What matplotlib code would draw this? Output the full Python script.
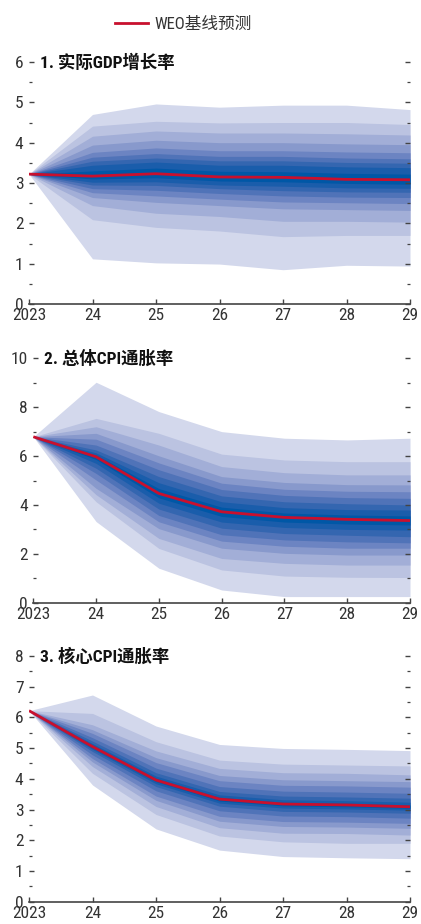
import matplotlib
matplotlib.use('Agg')
import matplotlib.pyplot as plt
from matplotlib import font_manager
from matplotlib.lines import Line2D
from matplotlib.ticker import MultipleLocator
import numpy as np

# pick a narrow Latin face if one is around, CJK falls back to Noto
available = {f.name for f in font_manager.fontManager.ttflist}
narrow = None
for cand in ['Roboto Condensed', 'Liberation Sans Narrow', 'Open Sans Condensed',
             'Noto Sans Condensed', 'DejaVu Sans Condensed']:
    if cand in available:
        narrow = cand
        break
families = ([narrow] if narrow else []) + ['DejaVu Sans', 'Noto Sans CJK SC']
plt.rcParams['font.family'] = families
plt.rcParams['font.stretch'] = 'condensed'

years = ['2023', '24', '25', '26', '27', '28', '29']

# percentile edges per year: p5, p10, ..., p45, p55, ..., p95
gdp_baseline = [3.22, 3.17, 3.23, 3.15, 3.14, 3.09, 3.08]
gdp_bands = [
    [3.22, 3.22, 3.22, 3.22, 3.22, 3.22, 3.22, 3.22, 3.22, 3.22, 3.22, 3.22, 3.22, 3.22, 3.22, 3.22, 3.22, 3.22],
    [1.12, 2.09, 2.44, 2.64, 2.76, 2.86, 2.95, 3.02, 3.10, 3.30, 3.44, 3.54, 3.64, 3.76, 3.94, 4.16, 4.41, 4.70],
    [1.02, 1.90, 2.25, 2.52, 2.68, 2.82, 2.94, 3.03, 3.13, 3.37, 3.52, 3.62, 3.73, 3.87, 4.06, 4.29, 4.53, 4.96],
    [0.99, 1.81, 2.17, 2.44, 2.60, 2.74, 2.86, 2.95, 3.05, 3.29, 3.44, 3.55, 3.66, 3.80, 4.00, 4.24, 4.49, 4.88],
    [0.85, 1.67, 2.05, 2.36, 2.53, 2.68, 2.81, 2.92, 3.03, 3.28, 3.44, 3.55, 3.66, 3.80, 4.00, 4.24, 4.50, 4.93],
    [0.96, 1.70, 2.05, 2.34, 2.51, 2.65, 2.78, 2.88, 2.99, 3.24, 3.40, 3.51, 3.62, 3.77, 3.97, 4.22, 4.50, 4.93],
    [0.94, 1.70, 2.03, 2.32, 2.49, 2.64, 2.77, 2.87, 2.97, 3.22, 3.38, 3.49, 3.60, 3.75, 3.95, 4.19, 4.45, 4.82],
]

cpi_baseline = [6.79, 5.97, 4.47, 3.72, 3.49, 3.41, 3.36]
cpi_bands = [
    [6.79, 6.79, 6.79, 6.79, 6.79, 6.79, 6.79, 6.79, 6.79, 6.79, 6.79, 6.79, 6.79, 6.79, 6.79, 6.79, 6.79, 6.79],
    [3.32, 4.13, 4.42, 4.68, 5.02, 5.29, 5.50, 5.70, 5.86, 6.04, 6.13, 6.25, 6.45, 6.69, 6.93, 7.20, 7.54, 9.02],
    [1.41, 2.22, 2.63, 3.03, 3.31, 3.57, 3.83, 4.07, 4.29, 4.67, 4.91, 5.16, 5.44, 5.72, 6.01, 6.45, 6.93, 7.82],
    [0.52, 1.34, 1.81, 2.23, 2.52, 2.78, 3.05, 3.30, 3.53, 3.91, 4.13, 4.37, 4.63, 4.89, 5.16, 5.57, 6.08, 7.00],
    [0.25, 1.09, 1.61, 2.02, 2.31, 2.57, 2.83, 3.08, 3.30, 3.67, 3.89, 4.13, 4.39, 4.64, 4.92, 5.32, 5.84, 6.73],
    [0.25, 1.04, 1.54, 1.95, 2.23, 2.49, 2.76, 3.00, 3.22, 3.59, 3.81, 4.05, 4.30, 4.56, 4.83, 5.23, 5.77, 6.66],
    [0.25, 1.03, 1.54, 1.95, 2.23, 2.45, 2.70, 2.97, 3.18, 3.55, 3.79, 4.00, 4.27, 4.54, 4.82, 5.23, 5.77, 6.73],
]

core_baseline = [6.22, 5.05, 3.96, 3.34, 3.18, 3.15, 3.09]
core_bands = [
    [6.22, 6.22, 6.22, 6.22, 6.22, 6.22, 6.22, 6.22, 6.22, 6.22, 6.22, 6.22, 6.22, 6.22, 6.22, 6.22, 6.22, 6.22],
    [3.80, 4.18, 4.40, 4.55, 4.66, 4.78, 4.89, 4.96, 5.01, 5.09, 5.15, 5.23, 5.34, 5.48, 5.60, 5.76, 6.13, 6.73],
    [2.37, 2.84, 3.10, 3.30, 3.44, 3.61, 3.75, 3.84, 3.91, 4.02, 4.09, 4.20, 4.35, 4.53, 4.69, 4.91, 5.21, 5.72],
    [1.68, 2.14, 2.41, 2.62, 2.78, 2.96, 3.11, 3.21, 3.28, 3.40, 3.48, 3.59, 3.75, 3.94, 4.11, 4.34, 4.61, 5.12],
    [1.47, 1.95, 2.23, 2.45, 2.61, 2.79, 2.94, 3.05, 3.12, 3.24, 3.32, 3.44, 3.60, 3.79, 3.97, 4.20, 4.48, 4.99],
    [1.43, 1.90, 2.22, 2.43, 2.59, 2.77, 2.92, 3.02, 3.09, 3.21, 3.29, 3.41, 3.57, 3.77, 3.94, 4.18, 4.45, 4.96],
    [1.40, 1.90, 2.17, 2.39, 2.55, 2.72, 2.88, 2.98, 3.04, 3.15, 3.24, 3.37, 3.53, 3.73, 3.91, 4.13, 4.42, 4.92],
]

titles = ['1. 实际GDP增长率', '2. 总体CPI通胀率', '3. 核心CPI通胀率']
legend_label = 'WEO基线预测'

# outer band -> inner band
band_colors = ['#D3D8EC', '#BBC3E1', '#A2AED7', '#8899CC', '#6C84C2',
               '#5073B8', '#3466B0', '#1A5DAB', '#0057A6']
red = '#C8102E'
txt = '#333333'

fig = plt.figure(figsize=(4.21, 9.24), dpi=100)

W, H = 421, 924
panels = [
    # (left px, top px, bottom px, ymax, major, minor)
    (29, 62, 304, 6, 1, 0.5),
    (33.3, 358.3, 602.7, 10, 2, 1),
    (29, 656, 901.7, 8, 1, 0.5),
]
data = [(gdp_baseline, gdp_bands), (cpi_baseline, cpi_bands), (core_baseline, core_bands)]

x = np.arange(len(years))
for (left, top, bottom, ymax, major, minor), (base, bands), title in zip(panels, data, titles):
    ax = fig.add_axes([left / W, 1 - bottom / H, (410 - left) / W, (bottom - top) / H])
    b = np.array(bands)
    n = b.shape[1]
    for i, c in enumerate(band_colors):
        ax.fill_between(x, b[:, i], b[:, n - 1 - i], color=c, lw=0, zorder=1)
    ax.plot(x, base, color=red, lw=2.0, zorder=3, solid_capstyle='butt')

    ax.set_xlim(0, len(years) - 1)
    ax.set_ylim(0, ymax)
    ax.set_xticks(x)
    ax.set_xticklabels(years)
    ax.yaxis.set_major_locator(MultipleLocator(major))
    ax.yaxis.set_minor_locator(MultipleLocator(minor))

    for s in ['left', 'right', 'top']:
        ax.spines[s].set_visible(False)
    ax.spines['bottom'].set_color('#444444')
    ax.spines['bottom'].set_linewidth(1.2)

    ax.tick_params(axis='y', which='major', direction='in', left=True, right=True,
                   length=3.4, width=1.0, color='#444444', pad=4.0,
                   labelsize=12.5, labelcolor=txt)
    ax.tick_params(axis='y', which='minor', direction='in', left=True, right=True,
                   length=2.2, width=0.9, color='#444444')
    ax.tick_params(axis='x', which='major', direction='in', length=3.4, width=1.0,
                   color='#444444', pad=3.2, labelsize=12.5, labelcolor=txt)
    for lab in ax.get_yticklabels():
        lab.set_verticalalignment('center_baseline')

    # panel title sits on the top tick level
    ax.text(10.5 / (410 - left), 1.0, title, transform=ax.transAxes,
            ha='left', va='center', fontsize=12.5, fontweight='bold', color='#111111')

handle = Line2D([0], [0], color=red, lw=2.0)
fig.legend([handle], [legend_label], loc='center left',
           bbox_to_anchor=(115 / W, 1 - 24 / H), frameon=False,
           borderpad=0, borderaxespad=0, handlelength=2.0, handletextpad=0.35,
           prop={'size': 12}, labelcolor=txt)

fig.savefig('out.png', dpi=100)
